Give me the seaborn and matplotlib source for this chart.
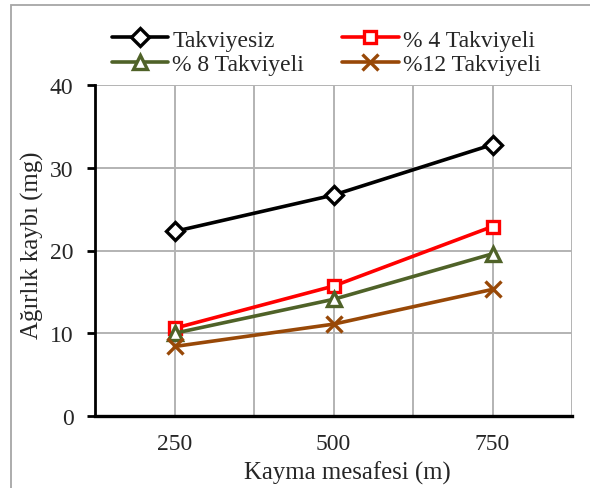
import matplotlib
matplotlib.use("Agg")
import matplotlib.pyplot as plt
import seaborn as sns
import pandas as pd
from matplotlib.patches import Rectangle

# Sliding distance categories (m)
distances = ["250", "500", "750"]

# Weight loss (mg) for each reinforcement ratio
takviyesiz = [22.3, 26.7, 32.8]
takviyeli_4 = [10.6, 15.7, 22.9]
takviyeli_8 = [10.0, 14.1, 19.6]
takviyeli_12 = [8.4, 11.1, 15.3]

series_names = ["Takviyesiz", "% 4 Takviyeli", "% 8 Takviyeli", "%12 Takviyeli"]
series_values = [takviyesiz, takviyeli_4, takviyeli_8, takviyeli_12]
colors = ["#000000", "#FF0000", "#4F6228", "#984807"]
markers = ["D", "s", "^", "x"]
marker_sizes = [9, 8.5, 9.5, 11]

rows = []
for name, vals in zip(series_names, series_values):
    for d, v in zip(distances, vals):
        rows.append({"Mesafe": d, "Kayip": v, "Seri": name})
df = pd.DataFrame(rows)

sns.set_theme(style="white")
plt.rcParams["font.family"] = ["Liberation Serif", "DejaVu Serif"]

FS = 17
LFS = 17.8

fig = plt.figure(figsize=(5.9, 4.89), dpi=100)
ax = fig.add_axes([95 / 590, 1 - 417 / 489, (572 - 95) / 590, (417 - 86) / 489])

for name, col, mk, ms in zip(series_names, colors, markers, marker_sizes):
    sub = df[df["Seri"] == name]
    face = col if mk == "x" else "white"
    sns.lineplot(data=sub, x="Mesafe", y="Kayip", ax=ax, color=col, linewidth=2.6,
                 marker=mk, markersize=ms, markerfacecolor=face,
                 markeredgecolor=col, markeredgewidth=2.4, label=name,
                 zorder=3)

ax.set_xlim(-0.5, 2.5)
ax.set_ylim(0, 40)
ax.set_yticks([0, 10, 20, 30, 40])
ax.set_xticks([0, 1, 2])
ax.set_xticklabels(distances)
ax.set_xticks([-0.5, 0.5, 1.5, 2.5], minor=True)

ax.grid(True, which="both", color="#b3b3b3", linewidth=1.4, zorder=0)
ax.set_axisbelow(True)

for side in ["top", "right"]:
    ax.spines[side].set_visible(False)
ax.spines["left"].set_color("black")
ax.spines["left"].set_linewidth(2.0)
ax.spines["bottom"].set_color("black")
ax.spines["bottom"].set_linewidth(2.4)
ax.spines["left"].set_zorder(4)
ax.spines["bottom"].set_zorder(4)

ax.tick_params(axis="y", which="major", direction="out", length=6, width=2.0,
               color="black", labelsize=FS, pad=9.5, left=True)
ax.tick_params(axis="x", which="both", length=0, labelsize=FS, pad=12)

ax.set_xlabel("Kayma mesafesi (m)", fontsize=LFS)
ax.set_ylabel("Ağırlık kaybı (mg)", fontsize=LFS)
ax.xaxis.set_label_coords((347 - 95) / 477, -(473 - 417) / 331)
ax.xaxis.label.set_va("center")
ax.yaxis.set_label_coords((32 - 95) / 477, (417 - 245) / 331)
ax.yaxis.label.set_va("center")

# legend laid out row by row
handles, labels = ax.get_legend_handles_labels()
order = [0, 2, 1, 3]
leg = ax.legend([handles[i] for i in order], [labels[i] for i in order],
                loc="lower left", bbox_to_anchor=(0.035, 1 + 10 / 331), ncol=2,
                frameon=False, fontsize=FS, handlelength=2.4,
                handletextpad=0.17, columnspacing=1.6, labelspacing=0.12,
                borderaxespad=0.0, borderpad=0.0)

# outer chart border
fig.patches.append(Rectangle((11 / 590, -0.05), 1.2, 1 - 6 / 489 + 0.05,
                             transform=fig.transFigure, fill=False,
                             edgecolor="#a6a6a6", linewidth=1.3))

fig.savefig("out.png", dpi=100)
